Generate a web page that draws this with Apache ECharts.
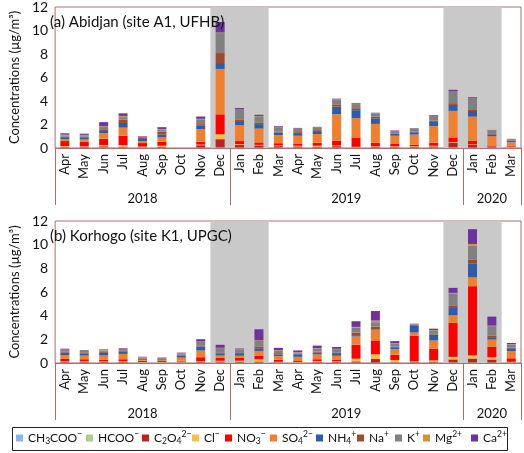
<!DOCTYPE html>
<html>
<head>
<meta charset="utf-8">
<script src="https://cdn.jsdelivr.net/npm/echarts@6/dist/echarts.min.js"></script>
<style>
html,body{margin:0;padding:0;background:#fff;}
#chart{width:524px;height:453px;}
</style>
</head>
<body>
<div id="chart"></div>
<script>
const months = ['Apr','May','Jun','Jul','Aug','Sep','Oct','Nov','Dec','Jan','Feb','Mar','Apr','May','Jun','Jul','Aug','Sep','Oct','Nov','Dec','Jan','Feb','Mar'];
const years = ['2018','2019','2020'];
const yearMonthCounts = [9, 12, 3];
const shadedMonths = [[8, 10], [20, 22]]; // Dec-Feb periods (month indices)
const yTicks = [0, 12, 2];
const species = ['CH3COO-','HCOO-','C2O4 2-','Cl-','NO3-','SO4 2-','NH4+','Na+','K+','Mg2+','Ca2+'];
const speciesLabels = ['CH{sub|3}COO{sup|−}','HCOO{sup|−}','C{sub|2}O{sub|4}{sup|2−}','Cl{sup|−}','NO{sub|3}{sup|−}','SO{sub|4}{sup|2−}','NH{sub|4}{sup|+}','Na{sup|+}','K{sup|+}','Mg{sup|2+}','Ca{sup|2+}'];
const titles = ['(a) Abidjan (site A1, UFHB)', '(b) Korhogo (site K1, UPGC)'];
const yName = 'Concentrations (µg/m³)';

// Abidjan (A1) – per species, Apr 2018 .. Mar 2020
const a_CH3COO = [0.02,0.02,0.03,0.03,0.02,0.02,null,0.02,0.03,0.02,0.02,0.02,0.02,0.02,0.02,0.02,0.02,0.02,0.02,0.02,0.03,0.02,0.02,0.02];
const a_HCOO   = [0.02,0.02,0.02,0.02,0.02,0.02,null,0.02,0.02,0.02,0.02,0.02,0.02,0.02,0.02,0.02,0.02,0.02,0.02,0.02,0.02,0.02,0.02,0.02];
const a_C2O4   = [0.05,0.05,0.10,0.05,0.03,0.05,null,0.20,0.70,0.25,0.18,0.12,0.10,0.08,0.12,0.03,0.05,0.05,0.05,0.10,0.40,0.22,0.05,0.02];
const a_Cl     = [0.08,0.05,0.10,0.15,0.05,0.10,null,0.05,0.42,0.05,0.05,0.05,0.05,0.07,0.05,0.03,0.05,0.05,0.05,0.05,0.05,0.05,0.03,0.05];
const a_NO3    = [0.42,0.38,0.55,0.80,0.30,0.35,null,0.25,1.69,0.25,0.20,0.20,0.20,0.25,0.40,0.80,0.30,0.20,0.15,0.25,0.40,0.30,0.08,0.08];
const a_SO4    = [0.15,0.20,0.45,0.68,0.15,0.35,null,1.07,3.87,1.36,1.19,0.68,0.65,0.75,2.26,1.64,1.61,0.70,0.85,1.41,2.26,2.06,0.80,0.30];
const a_NH4    = [0.12,0.15,0.20,0.40,0.20,0.25,null,0.28,0.50,0.34,0.37,0.23,0.23,0.25,0.65,0.68,0.48,0.15,0.20,0.37,0.51,0.48,0.15,0.10];
const a_Na     = [0.10,0.10,0.15,0.30,0.08,0.25,null,0.14,0.85,0.14,0.14,0.08,0.08,0.08,0.20,0.17,0.14,0.05,0.05,0.10,0.14,0.14,0.05,0.02];
const a_K      = [0.12,0.12,0.20,0.20,0.10,0.20,null,0.42,1.70,0.82,0.53,0.38,0.28,0.20,0.40,0.35,0.25,0.20,0.25,0.40,0.97,0.97,0.28,0.12];
const a_Mg     = [0.05,0.03,0.05,0.10,0.03,0.03,null,0.03,0.05,0.03,0.03,0.02,0.02,0.02,0.02,0.02,0.02,0.02,0.02,0.02,0.03,0.02,0.02,0.01];
const a_Ca     = [0.12,0.10,0.35,0.22,0.04,0.15,null,0.20,0.90,0.12,0.10,0.06,0.06,0.06,0.06,0.06,0.06,0.04,0.04,0.06,0.14,0.06,0.04,0.04];

// Korhogo (K1)
const k_CH3COO = [0.02,0.02,0.02,0.02,0.02,0.02,0.02,0.02,0.02,0.02,0.02,0.02,0.02,0.02,0.02,0.02,0.02,0.02,0.02,0.02,0.03,0.03,0.02,0.02];
const k_HCOO   = [0.02,0.02,0.02,0.02,0.02,0.02,0.02,0.02,0.02,0.02,0.02,0.02,0.02,0.02,0.02,0.02,0.02,0.02,0.02,0.02,0.02,0.02,0.02,0.02];
const k_C2O4   = [0.05,0.05,0.05,0.05,0.02,0.02,0.03,0.05,0.08,0.08,0.08,0.03,0.02,0.05,0.05,0.10,0.32,0.03,0.05,0.08,0.25,0.32,0.25,0.03];
const k_Cl     = [0.05,0.05,0.05,0.05,0.03,0.03,0.05,0.05,0.07,0.08,0.20,0.03,0.03,0.08,0.05,0.22,0.37,0.18,0.05,0.10,0.22,0.28,0.20,0.03];
const k_NO3    = [0.22,0.18,0.15,0.18,0.10,0.08,0.08,0.35,0.25,0.22,0.28,0.18,0.08,0.15,0.12,1.18,1.18,0.45,2.15,1.00,2.87,5.84,0.87,0.30];
const k_SO4    = [0.30,0.30,0.35,0.45,0.08,0.07,0.25,0.56,0.20,0.20,0.42,0.30,0.35,0.40,0.35,0.70,0.87,0.48,0.28,0.68,0.65,0.76,0.62,0.60];
const k_NH4    = [0.22,0.20,0.22,0.22,0.08,0.07,0.18,0.34,0.15,0.15,0.20,0.15,0.22,0.15,0.15,0.05,0.05,0.10,0.62,0.51,0.68,1.15,0.14,0.25];
const k_Na     = [0.10,0.08,0.08,0.08,0.05,0.04,0.08,0.10,0.10,0.08,0.15,0.10,0.05,0.10,0.10,0.28,0.25,0.10,0.03,0.05,0.14,0.34,0.20,0.05];
const k_K      = [0.12,0.12,0.13,0.12,0.08,0.07,0.12,0.30,0.38,0.30,0.50,0.25,0.10,0.28,0.32,0.40,0.37,0.27,0.05,0.30,1.02,1.18,0.80,0.27];
const k_Mg     = [0.03,0.03,0.03,0.03,0.02,0.02,0.02,0.02,0.02,0.02,0.05,0.02,0.02,0.02,0.02,0.08,0.14,0.02,0.01,0.02,0.05,0.14,0.04,0.02];
const k_Ca     = [0.08,0.05,0.05,0.05,0.03,0.03,0.03,0.20,0.25,0.05,0.93,0.18,0.15,0.20,0.15,0.48,0.80,0.18,0.04,0.12,0.42,1.25,0.76,0.10];

const siteA = [a_CH3COO,a_HCOO,a_C2O4,a_Cl,a_NO3,a_SO4,a_NH4,a_Na,a_K,a_Mg,a_Ca];
const siteK = [k_CH3COO,k_HCOO,k_C2O4,k_Cl,k_NO3,k_SO4,k_NH4,k_Na,k_K,k_Mg,k_Ca];

const colors = ['#8eb4e3','#a9d18e','#c0201e','#f2bf45','#ff0000','#f07f2e','#2e5ca8','#9e4a2c','#808080','#c9963a','#7030a0'];
const frame = '#a9706f';
const FONT = 'Lato, "Noto Sans", sans-serif';
// layout: legend item left edges (px)
const legendLefts = [16, 86, 142, 192, 225, 270, 316, 357, 395, 423, 471];

const bounds = [0];
yearMonthCounts.forEach(c => bounds.push(bounds[bounds.length - 1] + c));
const centers = yearMonthCounts.map((c, i) => bounds[i] + c / 2);

const grids = [
  {left: 44, right: 3, top: 7, height: 141},
  {left: 44, right: 3, top: 221, height: 142}
];

const xAxes = [], yAxes = [], series = [], titleList = [];
grids.forEach((g, gi) => {
  xAxes.push({
    type: 'category', gridIndex: gi, data: months,
    axisLine: {show: true, lineStyle: {color: frame, width: 1}},
    axisTick: {show: false},
    axisLabel: {rotate: 90, interval: 0, fontSize: 13, color: '#111', margin: 6, fontFamily: FONT}
  });
  xAxes.push({
    type: 'value', gridIndex: gi, min: 0, max: bounds[bounds.length - 1], position: 'bottom',
    axisLine: {show: false}, splitLine: {show: false},
    axisTick: {show: true, customValues: bounds, length: 57, lineStyle: {color: frame, width: 1}},
    axisLabel: {
      customValues: centers, margin: 44, fontSize: 13, color: '#111', fontFamily: FONT,
      formatter: v => { const i = centers.indexOf(v); return i >= 0 ? years[i] : ''; }
    }
  });
  yAxes.push({
    type: 'value', gridIndex: gi, min: yTicks[0], max: yTicks[1], interval: yTicks[2],
    axisLine: {show: false}, axisTick: {show: false}, splitLine: {show: false},
    axisLabel: {fontSize: 14, color: '#111', margin: 7, fontFamily: FONT},
    name: yName, nameLocation: 'middle', nameGap: 26,
    nameTextStyle: {fontSize: 13, color: '#111', fontFamily: FONT}
  });
  titleList.push({
    text: titles[gi], left: 45, top: g.top + 3,
    textStyle: {fontSize: 15, fontWeight: 'normal', color: '#111', fontFamily: FONT}
  });
  series.push({
    type: 'line', xAxisIndex: gi * 2 + 1, yAxisIndex: gi, data: [], z: 1, silent: true,
    markArea: {
      silent: true,
      itemStyle: {color: '#c9c9c9'},
      data: shadedMonths.map(s => [{xAxis: s[0], yAxis: -0.45}, {xAxis: s[1] + 1, yAxis: yTicks[1]}])
    }
  });
  const site = gi === 0 ? siteA : siteK;
  species.forEach((sp, si) => {
    series.push({
      name: sp, type: 'bar', stack: 'site' + gi, xAxisIndex: gi * 2, yAxisIndex: gi,
      data: site[si], barWidth: 9, z: 3,
      itemStyle: {color: colors[si]}
    });
  });
});

const legends = species.map((sp, i) => ({
  data: [sp], left: legendLefts[i], top: 430, icon: 'rect',
  itemWidth: 7, itemHeight: 7, itemGap: 0, padding: 0,
  formatter: name => speciesLabels[species.indexOf(name)],
  textStyle: {
    fontSize: 12, color: '#111', fontFamily: FONT, lineHeight: 16,
    rich: {
      sub: {fontSize: 8.5, color: '#111', fontFamily: FONT, verticalAlign: 'bottom', lineHeight: 16},
      sup: {fontSize: 8.5, color: '#111', fontFamily: FONT, verticalAlign: 'top', lineHeight: 16}
    }
  }
}));

const chart = echarts.init(document.getElementById('chart'), null, {renderer: 'canvas'});
chart.setOption({
  animation: false,
  textStyle: {fontFamily: FONT},
  title: titleList,
  grid: grids.map(g => Object.assign({show: true, borderColor: frame, borderWidth: 1, backgroundColor: 'transparent'}, g)),
  xAxis: xAxes,
  yAxis: yAxes,
  legend: legends,
  graphic: [{
    type: 'rect', silent: true,
    shape: {x: 12.5, y: 427.5, width: 495, height: 23},
    style: {fill: 'none', stroke: '#222', lineWidth: 1}
  }],
  series: series
});
</script>
</body>
</html>
